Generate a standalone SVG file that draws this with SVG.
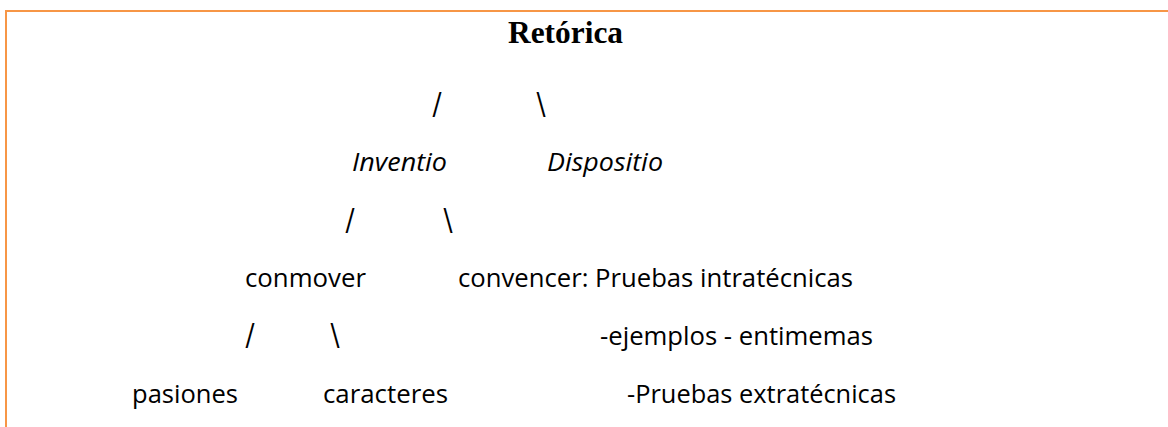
<svg xmlns="http://www.w3.org/2000/svg" width="1168" height="427" viewBox="0 0 1168 427">
<style>
.lbl{font-family:"Open Sans","Noto Sans","Liberation Sans",sans-serif;font-size:26px;fill:#000}
.it{font-style:italic}
.sl{font-family:"Open Sans","Noto Sans","Liberation Sans",sans-serif;font-size:26px;fill:#000;text-anchor:middle}
.title{font-family:"Liberation Serif","Times New Roman",serif;font-weight:bold;font-size:31.5px;fill:#000}
.frame{stroke:#F79646;stroke-width:2;fill:none}
</style>
<rect x="0" y="0" width="1168" height="427" fill="#fff"/>
<g id="frame">
<line class="frame" x1="5" y1="11" x2="1168" y2="11"/>
<line class="frame" x1="6" y1="10" x2="6" y2="427"/>
</g>
<g id="connectors">
<text class="sl" transform="translate(437,117) scale(1,1.35)">/</text>
<text class="sl" transform="translate(541,117) scale(1,1.35)">\</text>
<text class="sl" transform="translate(350,233) scale(1,1.35)">/</text>
<text class="sl" transform="translate(448,233) scale(1,1.35)">\</text>
<text class="sl" transform="translate(250,348) scale(1,1.35)">/</text>
<text class="sl" transform="translate(335,348) scale(1,1.35)">\</text>
</g>
<g id="retorica"><text class="title" x="508" y="43" textLength="115" lengthAdjust="spacingAndGlyphs">Retórica</text></g>
<g id="inventio"><text class="lbl it" x="352" y="171" textLength="95" lengthAdjust="spacingAndGlyphs">Inventio</text></g>
<g id="dispositio"><text class="lbl it" x="547" y="171" textLength="116" lengthAdjust="spacingAndGlyphs">Dispositio</text></g>
<g id="conmover"><text class="lbl" x="245" y="286.5" textLength="121" lengthAdjust="spacingAndGlyphs">conmover</text></g>
<g id="convencer"><text class="lbl" x="458" y="286.5" textLength="395" lengthAdjust="spacingAndGlyphs">convencer: Pruebas intratécnicas</text></g>
<g id="ejemplos"><text class="lbl" x="600" y="345" textLength="273" lengthAdjust="spacingAndGlyphs">-ejemplos - entimemas</text></g>
<g id="pasiones"><text class="lbl" x="132" y="403" textLength="106" lengthAdjust="spacingAndGlyphs">pasiones</text></g>
<g id="caracteres"><text class="lbl" x="323" y="403" textLength="125" lengthAdjust="spacingAndGlyphs">caracteres</text></g>
<g id="extratecnicas"><text class="lbl" x="627" y="403" textLength="269" lengthAdjust="spacingAndGlyphs">-Pruebas extratécnicas</text></g>
</svg>
